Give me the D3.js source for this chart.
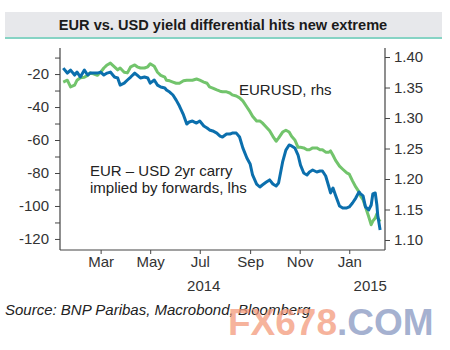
<!DOCTYPE html>
<html><head><meta charset="utf-8">
<script src="https://cdn.jsdelivr.net/npm/d3@7"></script>
<style>
html,body{margin:0;padding:0;background:#fff;}
svg{display:block;font-family:"Liberation Sans",Arial,sans-serif;}
</style></head>
<body>
<svg id="c" width="450" height="350"></svg>
<script>
const dates = ["2014-01-14","2014-01-19","2014-01-23","2014-01-28","2014-01-31","2014-02-04","2014-02-09","2014-02-13","2014-02-16","2014-02-21","2014-02-25","2014-03-01","2014-03-05","2014-03-09","2014-03-13","2014-03-18","2014-03-22","2014-03-25","2014-03-30","2014-04-03","2014-04-07","2014-04-12","2014-04-15","2014-04-19","2014-04-24","2014-04-28","2014-05-01","2014-05-06","2014-05-10","2014-05-14","2014-05-19","2014-05-21","2014-05-25","2014-05-29","2014-06-02","2014-06-06","2014-06-11","2014-06-15","2014-06-18","2014-06-22","2014-06-27","2014-07-01","2014-07-06","2014-07-10","2014-07-13","2014-07-17","2014-07-22","2014-07-26","2014-07-29","2014-08-03","2014-08-07","2014-08-10","2014-08-15","2014-08-19","2014-08-23","2014-08-28","2014-09-01","2014-09-04","2014-09-09","2014-09-13","2014-09-16","2014-09-21","2014-09-25","2014-09-29","2014-10-03","2014-10-06","2014-10-11","2014-10-15","2014-10-19","2014-10-22","2014-10-26","2014-10-30","2014-11-02","2014-11-06","2014-11-10","2014-11-13","2014-11-17","2014-11-22","2014-11-26","2014-11-29","2014-12-03","2014-12-07","2014-12-09","2014-12-12","2014-12-15","2014-12-20","2014-12-24","2014-12-29","2015-01-01","2015-01-05","2015-01-09","2015-01-13","2015-01-15","2015-01-18","2015-01-21","2015-01-25","2015-01-28","2015-01-30","2015-02-02","2015-02-04","2015-02-05","2015-02-08"];

const carry = [-16.4,-19.4,-17.6,-20.6,-18.8,-21.8,-17.6,-20.6,-19.4,-19.4,-19.4,-18.8,-20.6,-19.4,-18.8,-21.8,-22.4,-26.7,-25.5,-23.6,-21.8,-19.4,-20.6,-22.4,-21.8,-22.4,-25.5,-23.6,-26.7,-27.9,-28.5,-29.7,-30.9,-32.7,-35.8,-39.4,-44.8,-50.3,-49.1,-48.5,-49.7,-48.5,-51.5,-52.7,-53.9,-54.5,-55.8,-57.6,-58.2,-56.4,-56.4,-55.8,-55.8,-58.2,-64.8,-70.9,-74.5,-81.2,-86.7,-88.5,-87.3,-85.5,-84.2,-86.7,-87.9,-86.1,-73.3,-66.1,-63.0,-63.6,-64.8,-69.1,-75.2,-80.0,-81.2,-79.4,-78.2,-79.4,-78.8,-78.8,-81.8,-88.5,-92.1,-89.1,-93.3,-100.0,-101.2,-101.2,-100.6,-98.2,-95.2,-91.5,-92.7,-93.9,-100.6,-102.4,-99.4,-92.7,-92.1,-99.4,-105.5,-114.5];

const eurusd = [1.359,1.362,1.351,1.354,1.362,1.366,1.367,1.370,1.374,1.372,1.370,1.375,1.382,1.387,1.390,1.384,1.379,1.382,1.375,1.374,1.384,1.387,1.384,1.382,1.382,1.384,1.389,1.385,1.375,1.370,1.367,1.362,1.361,1.359,1.357,1.357,1.361,1.362,1.362,1.362,1.364,1.362,1.359,1.357,1.351,1.349,1.346,1.344,1.343,1.343,1.341,1.338,1.336,1.333,1.328,1.318,1.310,1.303,1.295,1.295,1.292,1.285,1.279,1.270,1.262,1.267,1.277,1.280,1.277,1.270,1.264,1.252,1.252,1.251,1.248,1.248,1.251,1.251,1.248,1.248,1.244,1.244,1.246,1.239,1.231,1.221,1.216,1.210,1.208,1.197,1.187,1.179,1.172,1.166,1.154,1.138,1.125,1.131,1.136,1.143,1.136,1.130];

const leftTicks = [-120,-100,-80,-60,-40,-20];
const rightTicks = [1.10,1.15,1.20,1.25,1.30,1.35,1.40];
const monthTicks = ["2014-03-01","2014-05-01","2014-07-01","2014-09-01","2014-11-01","2015-01-01"];
const monthLabels = ["Mar","May","Jul","Sep","Nov","Jan"];
const yearLabels = ["2014","2015"];

const parse = d3.timeParse("%Y-%m-%d");
const svg = d3.select("#c");

const L = 60, R = 385, T = 48, B = 250;
const x = d3.scaleTime().domain([parse("2014-01-10"), parse("2015-02-14")]).range([L, R]);
const yL = d3.scaleLinear().domain([-126.7, -4.2]).range([B, T]);
const yR = d3.scaleLinear().domain([1.0836, 1.4148]).range([B, T]);

// title bar
svg.append("rect").attr("x",5).attr("y",12).attr("width",437).attr("height",25).attr("fill","#e7e8eb");
svg.append("rect").attr("x",5).attr("y",37).attr("width",437).attr("height",2).attr("fill","#86d3c4");
svg.append("text").attr("x",223).attr("y",30).attr("text-anchor","middle")
  .attr("font-weight","bold").attr("font-size","14.6px").attr("fill","#1b1b1b")
  .text("EUR vs. USD yield differential hits new extreme");

const axisCol = "#444";
const fs = "15px";
// left axis
const la = svg.append("g").attr("transform",`translate(${L},0)`)
  .call(d3.axisLeft(yL).tickValues(d3.range(-120,-5,10)).tickSize(5).tickFormat(d => leftTicks.includes(d) ? d : ""));
// right axis
const ra = svg.append("g").attr("transform",`translate(${R},0)`)
  .call(d3.axisRight(yR).tickValues(rightTicks).tickSize(5).tickFormat(d3.format(".2f")));
// bottom axis
const ba = svg.append("g").attr("transform",`translate(0,${B})`)
  .call(d3.axisBottom(x).tickValues(monthTicks.map(parse)).tickSize(4).tickFormat((d,i)=>monthLabels[i]));
[la,ra,ba].forEach(g=>{
  g.select(".domain").attr("stroke",axisCol).attr("stroke-width",1.2);
  g.selectAll(".tick line").attr("stroke",axisCol).attr("stroke-width",1);
  g.selectAll("text").attr("font-size",fs).attr("fill","#333").attr("font-family","Liberation Sans, Arial, sans-serif");
});
la.select(".domain").attr("d",`M-0,${B}V${T}`);
ra.select(".domain").attr("d",`M0,${B}V${T}`);
ba.select(".domain").attr("d",`M${L},0H${R}`);
la.selectAll("text").attr("x",-11);
ra.selectAll("text").attr("x",9);
ba.selectAll("text").attr("y",6);

// year labels
svg.append("text").attr("x",x(parse("2014-07-01"))+4).attr("y",291).attr("text-anchor","middle")
  .attr("font-size",fs).attr("fill","#333").text(yearLabels[0]);
svg.append("text").attr("x",x(parse("2015-01-01"))+21).attr("y",291).attr("text-anchor","middle")
  .attr("font-size",fs).attr("fill","#333").text(yearLabels[1]);

// lines
const data = dates.map((d,i)=>({d:parse(d), c:carry[i], e:eurusd[i]}));
svg.append("path").datum(data).attr("fill","none").attr("stroke","#72c46c").attr("stroke-width",3)
  .attr("stroke-linejoin","round").attr("d", d3.line().x(d=>x(d.d)).y(d=>yR(d.e)));
svg.append("path").datum(data).attr("fill","none").attr("stroke","#0b6fad").attr("stroke-width",3)
  .attr("stroke-linejoin","round").attr("d", d3.line().x(d=>x(d.d)).y(d=>yL(d.c)));

// annotations
svg.append("text").attr("x",239).attr("y",95).attr("font-size",fs).attr("fill","#222").text("EURUSD, rhs");
svg.append("text").attr("x",90).attr("y",176).attr("font-size",fs).attr("fill","#222").text("EUR \u2013 USD 2yr carry");
svg.append("text").attr("x",90).attr("y",193).attr("font-size",fs).attr("fill","#222").text("implied by forwards, lhs");

// source
svg.append("text").attr("x",5).attr("y",315).attr("font-size",fs).attr("font-style","italic")
  .attr("fill","#222").text("Source: BNP Paribas, Macrobond, Bloomberg");

// watermark
const wm = svg.append("text").attr("x",228).attr("y",335).attr("font-size","37px").attr("font-weight","bold");
wm.append("tspan").attr("fill","#f39a7c").attr("fill-opacity",0.75).text("FX678");
wm.append("tspan").attr("fill","#8d9cc4").attr("fill-opacity",0.8).text(".COM");
</script>
</body></html>
